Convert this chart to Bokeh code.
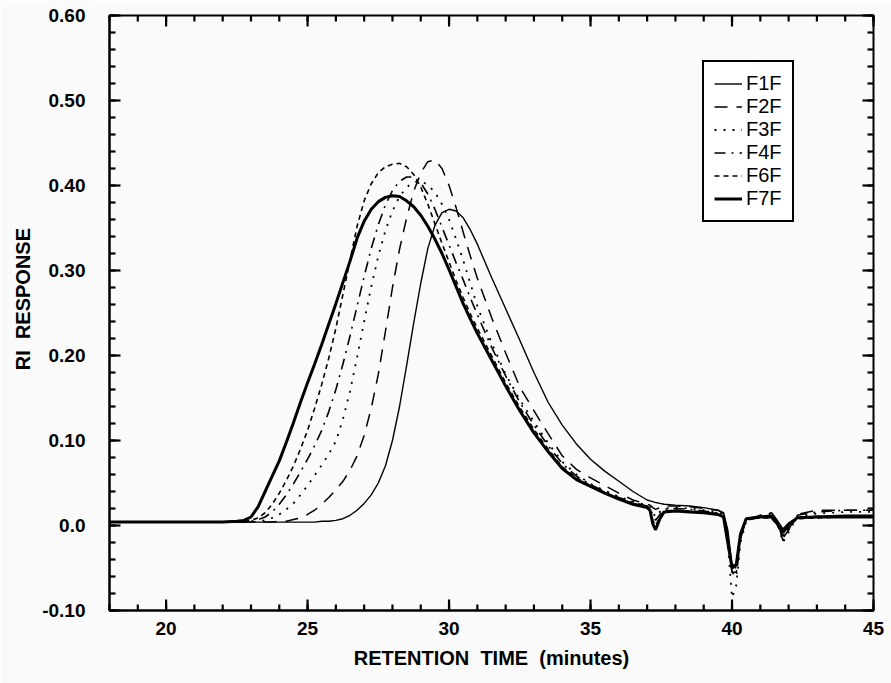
import numpy as np
from bokeh.plotting import figure
from bokeh.models import Range1d, LinearAxis, FixedTicker, CustomJSTickFormatter
from bokeh.embed import file_html
from bokeh.resources import INLINE

# retention time grid (minutes)
t = [18.0, 20.0, 21.0, 22.0,
     22.5, 22.75, 23.0, 23.25, 23.5, 23.75, 24.0, 24.25, 24.5, 24.75, 25.0, 25.25,
     25.5, 25.75, 26.0, 26.25, 26.5, 26.75, 27.0, 27.25, 27.5, 27.75, 28.0, 28.25,
     28.5, 28.75, 29.0, 29.25, 29.5, 29.75, 30.0, 30.25, 30.5, 30.75, 31.0,
     31.5, 32.0, 32.5, 33.0, 33.5, 34.0, 34.5, 35.0, 35.5, 36.0, 36.5, 37.0,
     37.1, 37.2, 37.3, 37.45, 37.6, 38.0, 38.5, 39.0, 39.5, 39.7, 39.85, 40.0,
     40.15, 40.3, 40.5, 41.0, 41.4, 41.6, 41.8, 42.0, 42.3, 43.0, 44.0, 45.0]

f1f = [0.004, 0.004, 0.004, 0.004,
       0.004, 0.004, 0.004, 0.004, 0.004, 0.004, 0.004, 0.004, 0.004, 0.004, 0.004, 0.004,
       0.005, 0.005, 0.006, 0.008, 0.012, 0.018, 0.026, 0.036, 0.050, 0.070, 0.100, 0.140,
       0.188, 0.238, 0.285, 0.326, 0.353, 0.368, 0.372, 0.370, 0.362, 0.348, 0.331,
       0.292, 0.255, 0.218, 0.180, 0.145, 0.118, 0.096, 0.078, 0.064, 0.052, 0.040, 0.030,
       0.029, 0.028, 0.027, 0.026, 0.025, 0.024, 0.023, 0.021, 0.018, 0.015, -0.005, -0.045,
       -0.048, -0.012, 0.008, 0.011, 0.012, 0.006, -0.004, 0.003, 0.009, 0.011, 0.012, 0.012]

f2f = [0.004, 0.004, 0.004, 0.004,
       0.004, 0.004, 0.004, 0.004, 0.004, 0.004, 0.005, 0.005, 0.007, 0.009, 0.013, 0.018,
       0.025, 0.033, 0.042, 0.052, 0.065, 0.082, 0.106, 0.138, 0.178, 0.228, 0.280, 0.325,
       0.362, 0.393, 0.415, 0.428, 0.430, 0.420, 0.400, 0.374, 0.345, 0.317, 0.291,
       0.245, 0.203, 0.163, 0.135, 0.108, 0.082, 0.066, 0.056, 0.047, 0.038, 0.030, 0.025,
       0.024, 0.021, 0.019, 0.021, 0.023, 0.023, 0.022, 0.020, 0.018, 0.014, -0.010, -0.055,
       -0.055, -0.015, 0.006, 0.012, 0.015, 0.006, -0.018, -0.005, 0.013, 0.018, 0.018, 0.018]

f3f = [0.004, 0.004, 0.004, 0.004,
       0.004, 0.004, 0.004, 0.005, 0.006, 0.009, 0.013, 0.019, 0.026, 0.036, 0.047, 0.059,
       0.071, 0.084, 0.099, 0.125, 0.158, 0.198, 0.240, 0.281, 0.317, 0.347, 0.370, 0.387,
       0.398, 0.404, 0.405, 0.401, 0.392, 0.378, 0.360, 0.337, 0.312, 0.285, 0.258,
       0.215, 0.178, 0.148, 0.122, 0.097, 0.075, 0.060, 0.049, 0.041, 0.034, 0.028, 0.024,
       0.022, 0.015, 0.010, 0.016, 0.020, 0.021, 0.020, 0.018, 0.016, 0.012, -0.020, -0.085,
       -0.070, -0.020, 0.005, 0.012, 0.014, 0.005, -0.020, -0.008, 0.010, 0.014, 0.016, 0.016]

f4f = [0.004, 0.004, 0.004, 0.004,
       0.004, 0.004, 0.005, 0.007, 0.010, 0.016, 0.025, 0.036, 0.049, 0.063, 0.078, 0.094,
       0.112, 0.134, 0.160, 0.190, 0.223, 0.258, 0.293, 0.326, 0.354, 0.377, 0.394, 0.405,
       0.410, 0.410, 0.403, 0.390, 0.372, 0.351, 0.330, 0.309, 0.289, 0.268, 0.248,
       0.210, 0.176, 0.145, 0.118, 0.094, 0.073, 0.058, 0.048, 0.040, 0.033, 0.027, 0.023,
       0.021, 0.012, 0.006, 0.013, 0.019, 0.020, 0.019, 0.017, 0.015, 0.012, -0.010, -0.055,
       -0.060, -0.015, 0.006, 0.010, 0.012, 0.004, -0.015, -0.005, 0.012, 0.016, 0.018, 0.018]

f6f = [0.004, 0.004, 0.004, 0.004,
       0.004, 0.005, 0.006, 0.009, 0.015, 0.025, 0.038, 0.053, 0.070, 0.090, 0.112, 0.138,
       0.166, 0.197, 0.232, 0.272, 0.312, 0.352, 0.382, 0.402, 0.415, 0.422, 0.425, 0.426,
       0.422, 0.413, 0.398, 0.378, 0.355, 0.332, 0.310, 0.288, 0.268, 0.249, 0.232,
       0.200, 0.168, 0.139, 0.113, 0.090, 0.069, 0.056, 0.047, 0.039, 0.032, 0.026, 0.022,
       0.019, 0.006, 0.000, 0.010, 0.017, 0.018, 0.017, 0.016, 0.014, 0.011, -0.015, -0.048,
       -0.050, -0.012, 0.007, 0.009, 0.009, 0.000, -0.012, -0.002, 0.008, 0.009, 0.010, 0.010]

f7f = [0.004, 0.004, 0.004, 0.004,
       0.005, 0.006, 0.010, 0.022, 0.040, 0.058, 0.076, 0.098, 0.121, 0.145, 0.168, 0.190,
       0.213, 0.237, 0.261, 0.286, 0.311, 0.338, 0.358, 0.372, 0.381, 0.386, 0.388, 0.387,
       0.382, 0.375, 0.365, 0.352, 0.337, 0.320, 0.301, 0.281, 0.261, 0.243, 0.226,
       0.195, 0.164, 0.135, 0.109, 0.087, 0.067, 0.054, 0.046, 0.038, 0.031, 0.025, 0.021,
       0.018, 0.002, -0.005, 0.008, 0.016, 0.017, 0.016, 0.015, 0.013, 0.010, -0.020, -0.050,
       -0.046, -0.010, 0.008, 0.010, 0.010, 0.002, -0.008, 0.001, 0.009, 0.010, 0.010, 0.010]

x_major = [20, 25, 30, 35, 40, 45]
x_minor = [18, 19, 20, 21, 22, 23, 24, 25, 26, 27, 28, 29, 30, 31, 32, 33, 34, 35,
           36, 37, 38, 39, 40, 41, 42, 43, 44, 45]
y_major = [-0.10, 0.0, 0.10, 0.20, 0.30, 0.40, 0.50, 0.60]
y_minor = [-0.10, -0.08, -0.06, -0.04, -0.02, 0.0, 0.02, 0.04, 0.06, 0.08, 0.10,
           0.12, 0.14, 0.16, 0.18, 0.20, 0.22, 0.24, 0.26, 0.28, 0.30, 0.32, 0.34,
           0.36, 0.38, 0.40, 0.42, 0.44, 0.46, 0.48, 0.50, 0.52, 0.54, 0.56, 0.58, 0.60]

X0, X1 = 18, 45
Y0, Y1 = -0.10, 0.60
W, H = 891, 683
BL, BR, BT, BB = 109, 18, 15, 73
BG = "#fafafa"
FONT = "Liberation Sans"

p = figure(width=W, height=H, output_backend="svg", toolbar_location=None,
           x_range=Range1d(X0, X1), y_range=Range1d(Y0, Y1),
           x_axis_type=None, y_axis_type=None,
           min_border_left=BL, min_border_right=BR, min_border_top=BT, min_border_bottom=BB)
p.background_fill_color = BG
p.border_fill_color = BG
p.outline_line_color = "black"
p.outline_line_alpha = 1.0
p.outline_line_width = 2
p.xgrid.visible = False
p.ygrid.visible = False

yfmt = CustomJSTickFormatter(code="return Math.abs(tick) < 1e-9 ? '0.0' : tick.toFixed(2);")


def style_axis(ax):
    ax.axis_line_color = "black"
    ax.axis_line_width = 2
    ax.major_tick_in = 0
    ax.major_tick_out = 0
    ax.minor_tick_in = 0
    ax.minor_tick_out = 0
    ax.major_tick_line_color = None
    ax.minor_tick_line_color = None
    ax.major_label_text_font = FONT
    ax.major_label_text_font_style = "bold"
    ax.major_label_text_font_size = "19px"
    ax.major_label_text_color = "black"
    ax.axis_label_text_font = FONT
    ax.axis_label_text_font_style = "bold"
    ax.axis_label_text_font_size = "20px"
    ax.axis_label_text_color = "black"


xb = LinearAxis(ticker=FixedTicker(ticks=x_major),
                axis_label="RETENTION\u00a0\u00a0TIME\u00a0\u00a0(minutes)")
style_axis(xb)
xb.major_label_standoff = 11
xb.axis_label_standoff = 9
p.add_layout(xb, "below")

yl = LinearAxis(ticker=FixedTicker(ticks=y_major), formatter=yfmt,
                axis_label="\u00a0\u00a0\u00a0\u00a0\u00a0RI\u00a0\u00a0RESPONSE")
style_axis(yl)
yl.major_label_standoff = 24
yl.axis_label_standoff = 5
p.add_layout(yl, "left")

series = [
    ("F1F", f1f, 1.4, "solid"),
    ("F2F", f2f, 1.5, "13 9"),
    ("F3F", f3f, 1.8, "2 7"),
    ("F4F", f4f, 1.6, "11 6 2 6"),
    ("F6F", f6f, 1.6, "5 4"),
    ("F7F", f7f, 3.0, "solid"),
]
for name, vals, lw, dash in series:
    p.line(t, vals, line_color="black", line_width=lw, line_dash=dash, legend_label=name)

# inward tick marks on all four sides (pixel lengths converted to data units)
fx = (X1 - X0) / (W - BL - BR)
fy = (Y1 - Y0) / (H - BT - BB)
tick_xs, tick_ys = [], []
for ticks, ln in ((x_minor, 6), (x_major, 11)):
    for v in ticks:
        tick_xs += [[v, v], [v, v]]
        tick_ys += [[Y0, Y0 + ln * fy], [Y1, Y1 - ln * fy]]
for ticks, ln in ((y_minor, 6), (y_major, 11)):
    for v in ticks:
        tick_xs += [[X0, X0 + ln * fx], [X1, X1 - ln * fx]]
        tick_ys += [[v, v], [v, v]]
tr = p.multi_line(xs=tick_xs, ys=tick_ys, line_color="black", line_width=2.2)
tr.level = "overlay"

lg = p.legend[0]
lg.location = (593, 388)
lg.border_line_color = "black"
lg.border_line_alpha = 1.0
lg.border_line_width = 2
lg.background_fill_color = "white"
lg.background_fill_alpha = 1.0
lg.label_text_font = FONT
lg.label_text_font_size = "20px"
lg.label_text_color = "black"
lg.padding = 10
lg.spacing = 0
lg.margin = 0
lg.label_height = 23
lg.glyph_height = 23
lg.glyph_width = 28
lg.label_standoff = 4

open("out.html", "w").write(file_html(p, INLINE))
